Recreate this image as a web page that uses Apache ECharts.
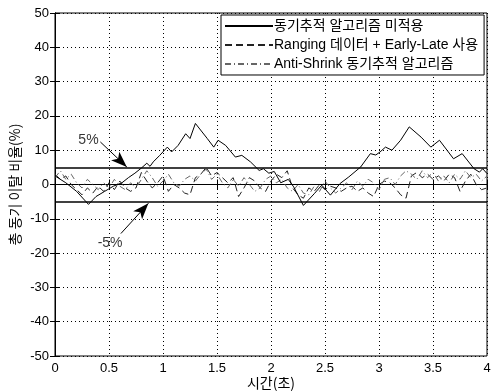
<!DOCTYPE html>
<html>
<head>
<meta charset="utf-8">
<script src="https://cdn.jsdelivr.net/npm/echarts@6/dist/echarts.min.js"></script>
<style>html,body{margin:0;padding:0;background:#fff}#c{width:492px;height:392px}</style>
</head>
<body>
<div id="c"></div>
<script>
// ---- data ----
const seriesNames = ['동기추적 알고리즘 미적용', 'Ranging 데이터 + Early-Late 사용', 'Anti-Shrink 동기추적 알고리즘'];
const xTicks = [0, 0.5, 1, 1.5, 2, 2.5, 3, 3.5, 4];
const yTicks = [-50, -40, -30, -20, -10, 0, 10, 20, 30, 40, 50];

// solid (no sync tracking)
const solidT = [0, 0.1, 0.2, 0.31, 0.38, 0.46, 0.54, 0.62, 0.68, 0.74, 0.80, 0.85, 0.88, 0.91, 0.97, 1.04, 1.08, 1.14, 1.21, 1.25, 1.30, 1.41, 1.47, 1.51, 1.58, 1.67, 1.73, 1.81, 1.89, 1.93, 1.98, 2.03, 2.09, 2.16, 2.21, 2.30, 2.40, 2.47, 2.55, 2.64, 2.72, 2.83, 2.92, 2.97, 3.01, 3.06, 3.12, 3.20, 3.28, 3.39, 3.48, 3.56, 3.69, 3.77, 3.88, 3.93, 3.96, 4.0];
const solidV = [2.5, 0.5, -2, -5.8, -3.5, -2, -0.5, 0.5, 2, 3.3, 4.8, 6.2, 5.3, 6.6, 8.5, 10.9, 9.5, 11.4, 14.8, 13.4, 17.8, 13.4, 10.9, 12.9, 11.4, 8, 8.5, 6.6, 4.1, 4.6, 3.3, 3.8, 0.5, 1.5, -0.7, -6.1, -2.7, -0.2, -3.1, 0.3, 2.2, 5.1, 9, 8.6, 9.5, 10.9, 10, 12.9, 16.8, 13.8, 10.9, 12.9, 7.5, 9, 4.6, 3.6, 4.6, 3.2];

// dashed series time base
const stepT = [0,0.05,0.1,0.15,0.2,0.25,0.3,0.35,0.4,0.45,0.5,0.55,0.6,0.65,0.7,0.75,0.8,0.85,0.9,0.95,1.0,1.05,1.1,1.15,1.2,1.25,1.3,1.35,1.4,1.45,1.5,1.55,1.6,1.65,1.7,1.75,1.8,1.85,1.9,1.95,2.0,2.05,2.1,2.15,2.2,2.25,2.3,2.35,2.4,2.45,2.5,2.55,2.6,2.65,2.7,2.75,2.8,2.85,2.9,2.95,3.0,3.05,3.1,3.15,3.2,3.25,3.3,3.35,3.4,3.45,3.5,3.55,3.6,3.65,3.7,3.75,3.8,3.85,3.9,3.95,4.0];
const rangingV = [3,1.5,2.5,0,-1.5,-3,-1,-2.5,-0.5,-2,0.5,-1.5,1,-1,-2,-1,3.5,1,-1,0.5,2.5,-2,0,-1,-2.5,-3,2,3,5,2.5,3.5,2,0.5,2,-3.5,-1,2,1,-1,-2,1,3,2,4,-1,-3,-4,-1,-2,0,-1.5,-0.5,-1,-2,-1,-0.5,-2,-1,-2.5,-3.5,0,1,0.5,-1,-3,-4,2.5,3.5,2,3,1.5,2.5,1,3,2,-2,1,3,0,-1.5,-1];
const antiV = [2,4,1.5,3,0.5,-1,1.5,0,-1.5,0.5,-1,1.5,-0.5,-1.5,0.5,-1,1.5,4,2,-0.5,1,3,0.5,-0.5,1.5,2.5,1,3,4.5,1.5,3,0.5,-1,1.5,-0.5,2,0,-2,-1,1.5,2.5,0.5,1.5,-1,-2,0,-2.5,-3,-0.5,-2,1,-1,-2.5,-1,0.5,-1.5,1,-0.5,1.5,0.5,-1.5,1.5,2,0,2.5,4,3,1.5,4,2,3.5,1,2.5,0.5,3,1.5,4,2,3,1,2.5];

// annotations
const annoLabels = ['5%', '-5%'];
const annoText = [[0.31, 12.8], [0.51, -17.2]];
const annoArrow = [[[0.42, 12.4], [0.665, 5.1]], [[0.61, -14.3], [0.865, -5.5]]];
const limitLines = [5, -5];

const zip = (a, b) => a.map((x, i) => [x, b[i]]);

const chart = echarts.init(document.getElementById('c'), null, {renderer: 'canvas'});
const fontFam = 'Liberation Sans, Arial, sans-serif';
const axisCommon = {
  axisLine: {show: true, lineStyle: {color: '#000', width: 1}},
  axisTick: {show: true, inside: true, length: 5, lineStyle: {color: '#000'}},
};
chart.setOption({
  animation: false,
  backgroundColor: '#fff',
  grid: {left: 55, right: 5, top: 13, bottom: 36, show: true, borderColor: '#000', borderWidth: 1,
         containLabel: false, outerBoundsMode: 'none'},
  legend: {
    orient: 'vertical', left: 221, top: 15,
    data: seriesNames,
    backgroundColor: '#fff', borderColor: '#000', borderWidth: 1,
    padding: [4, 6, 4, 3], itemGap: 5, itemWidth: 48, itemHeight: 14,
    itemStyle: {opacity: 0},
    textStyle: {fontSize: 14, color: '#000', fontFamily: 'Liberation Sans, Noto Sans CJK KR, sans-serif', padding: [0, 0, 0, -4]}
  },
  xAxis: [{
    type: 'value', min: 0, max: 4, interval: 0.5,
    name: '시간(초)', nameLocation: 'middle', nameGap: 20, nameMoveOverlap: false,
    nameTextStyle: {fontSize: 14, color: '#000', fontFamily: 'Noto Sans CJK KR'},
    axisLabel: {color: '#000', fontSize: 13, fontFamily: fontFam, margin: 6,
      formatter: v => xTicks.includes(v) ? String(v) : ''},
    splitLine: {show: true, lineStyle: {color: '#000', type: [1, 3], width: 1}},
    ...axisCommon
  }, {
    type: 'value', min: 0, max: 4, interval: 0.5, position: 'top',
    axisLabel: {show: false}, splitLine: {show: false}, ...axisCommon
  }],
  yAxis: [{
    type: 'value', min: -50, max: 50, interval: 10,
    name: '총 동기 이탈 비율(%)', nameLocation: 'middle', nameGap: 33, nameMoveOverlap: false,
    nameTextStyle: {fontSize: 14, color: '#000', fontFamily: 'Noto Sans CJK KR'},
    axisLabel: {color: '#000', fontSize: 13, fontFamily: fontFam, margin: 6,
      formatter: v => yTicks.includes(v) ? String(v) : ''},
    splitLine: {show: true, lineStyle: {color: '#000', type: [1, 3], width: 1}},
    ...axisCommon
  }, {
    type: 'value', min: -50, max: 50, interval: 10, position: 'right',
    axisLabel: {show: false}, splitLine: {show: false}, ...axisCommon
  }],
  series: [
    {
      name: seriesNames[0], type: 'line', data: zip(solidT, solidV),
      symbol: 'none', lineStyle: {color: '#000', width: 1, type: 'solid'}, itemStyle: {color: '#000'},
      z: 5,
      markLine: {
        silent: true, symbol: ['none', 'none'], label: {show: false},
        lineStyle: {color: '#000', width: 1.5, type: 'solid'},
        data: limitLines.map(v => ({yAxis: v}))
      }
    },
    {
      name: seriesNames[1], type: 'line', data: zip(stepT, rangingV),
      symbol: 'none', lineStyle: {color: '#222', width: 1, type: [7, 4]}, itemStyle: {color: '#222'},
      markLine: {
        silent: true, symbol: ['none', 'arrow'], symbolSize: [9, 16], label: {show: false},
        lineStyle: {color: '#000', width: 1, type: 'solid'},
        data: annoArrow.map(a => [{coord: a[0]}, {coord: a[1]}])
      }
    },
    {
      name: seriesNames[2], type: 'line', data: zip(stepT, antiV),
      symbol: 'none', lineStyle: {color: '#666', width: 1, type: [6, 3, 1, 3]}, itemStyle: {color: '#666'}
    },
    {
      name: 'anno', type: 'scatter', symbolSize: 0, silent: true,
      data: annoText.map((p, i) => ({value: p, name: annoLabels[i]})),
      label: {show: true, position: 'inside', formatter: p => p.name, color: '#000', fontSize: 14, fontFamily: fontFam}
    }
  ]
});
</script>
</body>
</html>
